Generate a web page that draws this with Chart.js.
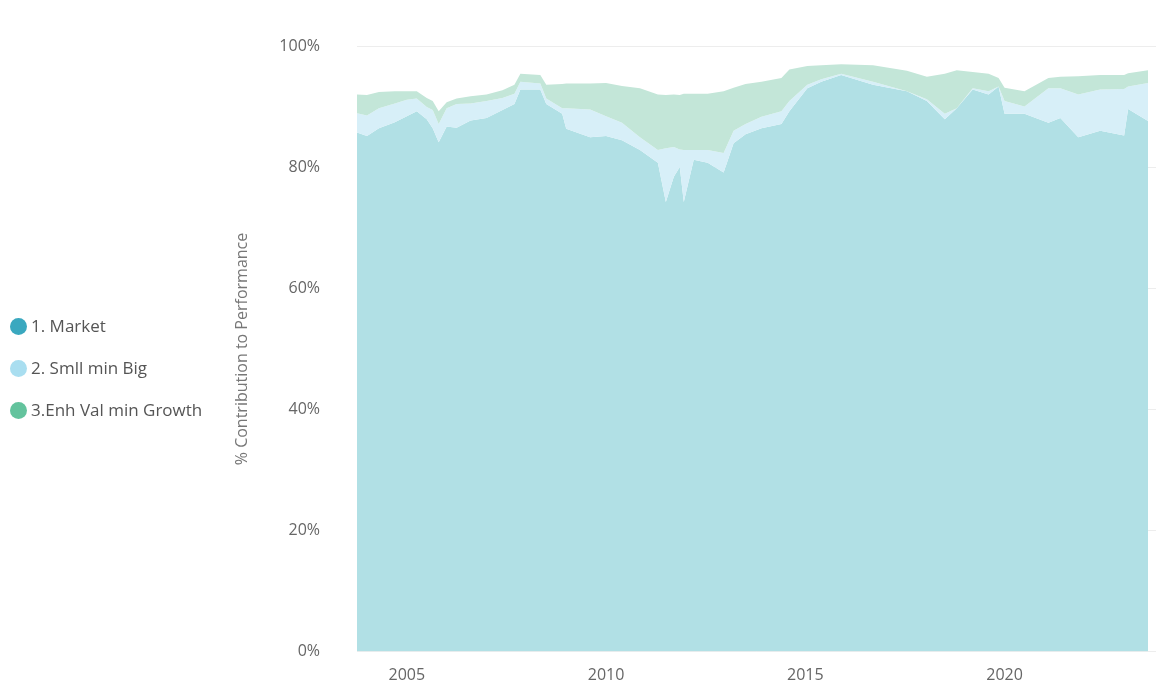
<!DOCTYPE html>
<html><head><meta charset="utf-8">
<script src="https://cdn.jsdelivr.net/npm/chart.js@4/dist/chart.umd.min.js"></script>
<style>
html,body{margin:0;padding:0;background:#fff;}
#wrap{position:relative;width:1170px;height:698px;}
#legend{position:absolute;left:10px;top:314px;font-family:"Open Sans",sans-serif;font-size:17px;color:#555;}
#legend div{height:42px;display:flex;align-items:flex-start;}
#legend span{display:inline-block;width:17px;height:17px;border-radius:50%;margin-right:4px;margin-top:4px;}
</style></head>
<body><div id="wrap"><canvas id="c" width="1170" height="698"></canvas>
<div id="legend"></div></div>
<script>
const seriesNames = ["1. Market", "2. Smll min Big", "3.Enh Val min Growth"];
const legendColors = ["#3aa8bf", "#a9def0", "#63c39d"];
const fillColors = ["#b1e0e5", "#d7eff8", "#c3e6d8"];
const dates = [2003.75,2004.0,2004.3,2004.7,2005.0,2005.25,2005.5,2005.65,2005.8,2006.0,2006.25,2006.6,2007.0,2007.4,2007.7,2007.85,2008.35,2008.5,2008.9,2009.0,2009.6,2010.0,2010.4,2010.85,2011.3,2011.5,2011.7,2011.85,2011.95,2012.2,2012.55,2012.95,2013.2,2013.5,2013.9,2014.4,2014.6,2015.05,2015.4,2015.9,2016.7,2017.55,2018.05,2018.5,2018.8,2019.2,2019.6,2019.85,2020.0,2020.5,2021.1,2021.4,2021.85,2022.4,2023.0,2023.1,2023.6];
// top edge of "1. Market"
const marketLevel = [85.8,85.2,86.5,87.5,88.5,89.3,88.0,86.5,84.2,86.8,86.6,87.8,88.2,89.5,90.5,92.9,92.9,90.5,88.9,86.4,85.0,85.2,84.5,82.9,80.8,74.3,78.5,80.1,74.3,81.3,80.8,79.2,84.0,85.5,86.5,87.2,89.3,93.1,94.2,95.3,93.7,92.6,91.0,88.0,89.8,92.9,92.1,93.4,88.9,88.9,87.4,88.2,85.0,86.1,85.3,89.7,87.7];
// top edge of "2. Smll min Big" (cumulative)
const smbLevel = [89.0,88.6,89.8,90.6,91.2,91.4,90.0,89.5,87.2,89.8,90.5,90.6,91.0,91.5,92.2,94.2,93.9,91.4,89.8,89.8,89.6,88.5,87.4,85.0,82.9,83.2,83.4,83.0,82.9,82.9,82.9,82.4,86.1,87.2,88.4,89.3,91.0,93.7,94.6,95.5,94.2,92.6,91.3,88.9,89.8,93.1,92.6,93.4,91.0,90.1,93.1,93.1,92.1,92.9,93.0,93.4,94.0];
// top edge of "3.Enh Val min Growth" (cumulative total)
const totalLevel = [92.1,92.0,92.5,92.6,92.6,92.6,91.5,91.0,89.3,90.8,91.4,91.8,92.1,92.8,93.7,95.5,95.3,93.7,93.8,93.9,93.9,94.0,93.5,93.1,92.1,92.0,92.1,92.0,92.2,92.2,92.2,92.6,93.2,93.8,94.2,94.8,96.2,96.8,96.9,97.1,96.9,96.0,95.0,95.5,96.1,95.8,95.5,94.8,93.2,92.6,94.8,95.0,95.1,95.3,95.3,95.6,96.1];
const yTicks = [0,20,40,60,80,100];
const xTicks = [2005,2010,2015,2020];

const levels = [marketLevel, smbLevel, totalLevel];
const lg = document.getElementById('legend');
seriesNames.forEach((n,i)=>{const d=document.createElement('div');d.innerHTML='<span style="background:'+legendColors[i]+'"></span>'+n;lg.appendChild(d);});

new Chart(document.getElementById('c'), {
  type: 'line',
  data: {
    datasets: levels.map((arr,i)=>({
      label: seriesNames[i],
      data: arr.map((v,k)=>({x:dates[k], y:v})),
      fill: i===0 ? 'origin' : '-1',
      backgroundColor: fillColors[i],
      borderWidth: 0, pointRadius: 0, tension: 0, order: 3-i
    }))
  },
  options: {
    responsive:false, animation:false,
    layout:{padding:{left:233,top:44,right:14,bottom:0}},
    plugins:{legend:{display:false},tooltip:{enabled:false}},
    scales:{
      x:{type:'linear',min:2003.75,max:2023.8,
        afterBuildTicks:s=>{s.ticks=xTicks.map(v=>({value:v}));},
        afterFit:s=>{s.height=35;},
        grid:{display:false},border:{display:false},
        ticks:{color:'#666',font:{family:'"Open Sans"',size:16},padding:6,maxRotation:0,callback:v=>String(v)}},
      y:{min:0,max:100,z:1,
        afterBuildTicks:s=>{s.ticks=yTicks.map(v=>({value:v}));},
        afterFit:s=>{s.width=124;},
        grid:{color:'rgba(0,0,0,0.07)',drawTicks:false},border:{display:false},
        ticks:{color:'#666',font:{family:'"Open Sans"',size:16},padding:37,callback:v=>v+'%'},
        title:{display:true,text:'% Contribution to Performance',color:'#777',font:{family:'"Open Sans"',size:16},padding:0}}
    }
  }
});
</script></body></html>
